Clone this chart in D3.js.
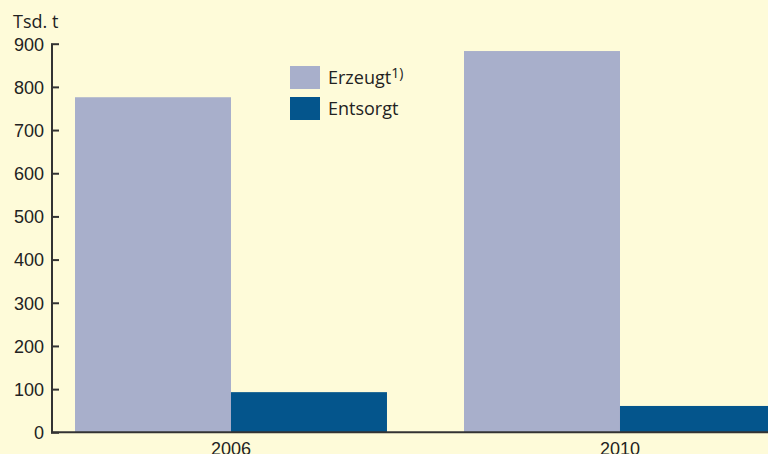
<!DOCTYPE html>
<html><head><meta charset="utf-8">
<script src="https://cdn.jsdelivr.net/npm/d3@7"></script>
<style>
html,body{margin:0;padding:0;background:#FEFBD9;}
svg{display:block;font-family:"Open Sans","Liberation Sans",sans-serif;}
</style></head>
<body>
<svg id="c" width="768" height="454"></svg>
<script>
const categories = ["2006", "2010"];
const seriesNames = ["Erzeugt", "Entsorgt"];
const erzeugt = [776, 883];
const entsorgt = [93, 61];
const yTicks = [0, 100, 200, 300, 400, 500, 600, 700, 800, 900];
const unitLabel = "Tsd. t";
const colors = ["#A8AFCB", "#04558C"];

const svg = d3.select("#c");
svg.append("rect").attr("width",768).attr("height",454).attr("fill","#FEFBD9");

const y = d3.scaleLinear().domain([0, 900]).range([432.3, 43.7]);
const step = 389, pi = 0.198, po = 23/389;
const x0 = d3.scaleBand().domain(categories).range([52, 52 + step*(2 - pi + 2*po)])
  .paddingInner(pi).paddingOuter(po);
const x1 = d3.scaleBand().domain(seriesNames).range([0, x0.bandwidth()]);

const data = categories.map((c,i)=>({cat:c, vals:[erzeugt[i], entsorgt[i]]}));
const g = svg.append("g");
data.forEach(d=>{
  d.vals.forEach((v,j)=>{
    g.append("rect")
      .attr("x", x0(d.cat) + x1(seriesNames[j]))
      .attr("width", x1.bandwidth())
      .attr("y", y(v))
      .attr("height", y(0) - y(v))
      .attr("fill", colors[j]);
  });
});

// y axis
const yAxis = d3.axisLeft(y).tickValues(yTicks).tickSize(-7).tickPadding(15);
const ya = svg.append("g").attr("transform","translate(52,0)").call(yAxis);
ya.select(".domain").attr("stroke","#333").attr("stroke-width",2).attr("d","M0,"+y(900)+"V"+y(0));
ya.selectAll(".tick line").attr("stroke","#333").attr("stroke-width",2).attr("x1",-1);
ya.selectAll(".tick text").attr("fill","#222").attr("font-size",18).attr("x",-8).attr("dy","0.35em");

// x axis
const xAxis = d3.axisBottom(x0).tickSize(0).tickPadding(10);
const xa = svg.append("g").attr("transform","translate(0,"+y(0)+")").call(xAxis);
xa.select(".domain").attr("stroke","#333").attr("stroke-width",2).attr("d","M51,0H768");
xa.selectAll(".tick text").attr("fill","#222").attr("font-size",18);

svg.append("text").attr("x",13).attr("y",28).attr("font-size",18).attr("fill","#222").text(unitLabel);

// legend
const leg = svg.append("g");
seriesNames.forEach((n,i)=>{
  leg.append("rect").attr("x",290).attr("y",66+i*31).attr("width",30).attr("height",23).attr("fill",colors[i]);
  const t = leg.append("text").attr("x",328).attr("y",84+i*31).attr("font-size",18).attr("fill","#222").text(n);
  if(i===0) t.append("tspan").attr("font-size",14).attr("dy",-6).text("1)");
});
</script>
</body></html>
